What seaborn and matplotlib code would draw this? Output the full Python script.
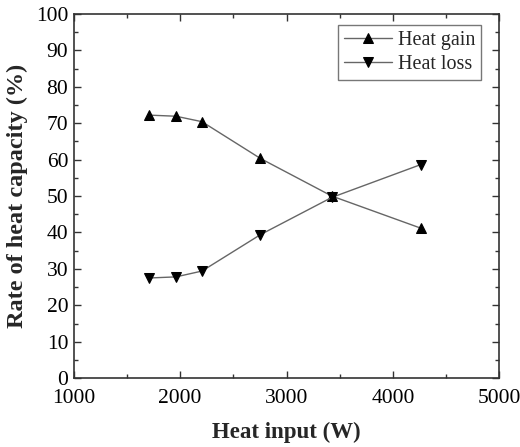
import matplotlib
matplotlib.use("Agg")
import matplotlib.pyplot as plt
import seaborn as sns
import pandas as pd
from matplotlib.ticker import MultipleLocator

heat_input = [1710, 1960, 2205, 2755, 3425, 4260]
heat_gain = [72.2, 71.9, 70.4, 60.3, 50.0, 41.2]
heat_loss = [27.5, 27.8, 29.4, 39.4, 49.6, 58.6]

sns.set_theme(style="ticks")
plt.rcParams['font.family'] = ['Liberation Serif', 'DejaVu Serif']
plt.rcParams['mathtext.fontset'] = 'stix'

df = pd.DataFrame({
    "Heat input (W)": heat_input * 2,
    "value": heat_gain + heat_loss,
    "series": ["Heat gain"] * len(heat_input) + ["Heat loss"] * len(heat_input),
})

fig = plt.figure(figsize=(5.2, 4.47), dpi=100)
ax = fig.add_axes([0.142, 0.154, 0.818, 0.815])

sns.lineplot(data=df, x="Heat input (W)", y="value", hue="series", style="series",
             markers={"Heat gain": "^", "Heat loss": "v"}, dashes=False,
             palette={"Heat gain": "#666666", "Heat loss": "#666666"},
             markersize=7, linewidth=1.0, markeredgecolor="black",
             markerfacecolor="black", ax=ax)
for line in ax.lines:
    line.set_markerfacecolor("black")
    line.set_markeredgecolor("black")

ax.set_xlim(1000, 5000)
ax.set_ylim(0, 100)
ax.xaxis.set_major_locator(MultipleLocator(1000))
ax.xaxis.set_minor_locator(MultipleLocator(500))
ax.yaxis.set_major_locator(MultipleLocator(10))
ax.yaxis.set_minor_locator(MultipleLocator(5))
ax.tick_params(which="both", direction="in", top=True, right=True, colors="#333333",
               labelcolor="black", labelsize=15.5)
ax.tick_params(which="major", length=5, width=1, pad=4)
ax.tick_params(which="minor", length=3, width=1)
ax.tick_params(axis="x", which="major", pad=8)
for s in ax.spines.values():
    s.set_color("#333333")
    s.set_linewidth(1.2)

ax.set_xlabel("Heat input (W)", fontsize=16.5, fontweight="bold", labelpad=10)
ax.set_ylabel("Rate of heat capacity (%)", fontsize=17.5, fontweight="bold", labelpad=6)

leg = ax.legend(loc="upper right", bbox_to_anchor=(0.958, 0.970), fontsize=14.5,
                frameon=True, fancybox=False, handlelength=2.4, borderpad=0.3,
                labelspacing=0.25, handletextpad=0.3, borderaxespad=0.0)
leg.get_frame().set_edgecolor("#555555")
leg.get_frame().set_linewidth(1.0)
for h in leg.legend_handles:
    h.set_markerfacecolor("black")
    h.set_markeredgecolor("black")

fig.savefig("out.png", dpi=100)
